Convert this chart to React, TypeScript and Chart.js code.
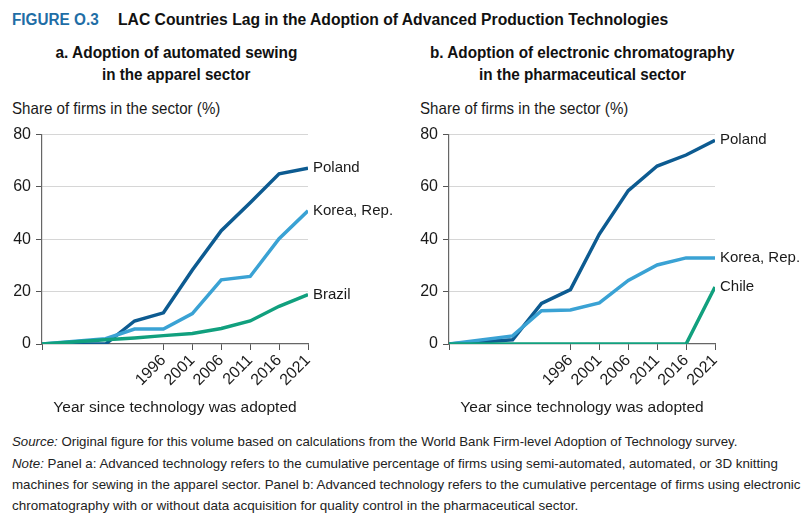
import { useEffect, useLayoutEffect, useRef } from "react";
import { Chart, registerables } from "chart.js";

Chart.register(...registerables);

const years = [1975, 1986, 1991, 1996, 2001, 2006, 2011, 2016, 2021];
const tickYears = [1975, 1996, 2001, 2006, 2011, 2016, 2021];
const yTicks = [0, 20, 40, 60, 80];

// panel a: automated sewing
const sewingPoland = [0, 0, 8.8, 11.9, 28.3, 43.3, 54, 65, 67.2];
const sewingKorea = [0, 2, 5.7, 5.7, 11.6, 24.5, 25.8, 40.2, 50.9];
const sewingBrazil = [0, 1.6, 2.3, 3.2, 4, 5.9, 8.8, 14.4, 18.9];

// panel b: electronic chromatography
const chromPoland = [0, 1.6, 15.5, 20.8, 42, 58.6, 68, 72.2, 77.8];
const chromKorea = [0, 3.1, 12.7, 13, 15.7, 24.3, 30.2, 32.9, 32.9];
const chromChile = [0, 0, 0, 0, 0, 0, 0, 0, 21.8];

const DARK_BLUE = "#0d5b91";
const LIGHT_BLUE = "#3aa2d4";
const TEAL = "#11a07e";

const FONT = "'Liberation Sans', Arial, sans-serif";

type Series = { label: string; values: number[]; color: string };

// writes each series name just right of its last point
const endLabels = {
  id: "endLabels",
  afterDatasetsDraw(chart: Chart) {
    const ctx = chart.ctx;
    ctx.save();
    ctx.font = `15px ${FONT}`;
    ctx.fillStyle = "#1a1a1a";
    ctx.textAlign = "left";
    ctx.textBaseline = "middle";
    chart.data.datasets.forEach((ds, i) => {
      const meta = chart.getDatasetMeta(i);
      const last = meta.data[meta.data.length - 1];
      if (!last) return;
      ctx.fillText(String(ds.label), last.x + 5, last.y);
    });
    ctx.restore();
  },
};

function Panel({ series }: { series: Series[] }) {
  const canvasRef = useRef<HTMLCanvasElement | null>(null);

  useEffect(() => {
    if (!canvasRef.current) return;
    const chart = new Chart(canvasRef.current, {
      type: "line",
      data: {
        datasets: series.map((s, i) => ({
          label: s.label,
          data: years.map((yr, j) => ({ x: yr, y: s.values[j] })),
          borderColor: s.color,
          backgroundColor: s.color,
          borderWidth: 3.5,
          pointRadius: 0,
          tension: 0,
          order: series.length - i,
        })),
      },
      options: {
        animation: false,
        responsive: false,
        layout: { padding: { top: 12, right: 90, left: 0, bottom: 0 } },
        plugins: { legend: { display: false }, tooltip: { enabled: false } },
        scales: {
          x: {
            type: "linear",
            min: years[0],
            max: years[years.length - 1],
            afterBuildTicks: (scale) => {
              scale.ticks = tickYears.map((v) => ({ value: v }));
            },
            afterFit: (scale) => {
              scale.height = 76;
            },
            ticks: {
              autoSkip: false,
              minRotation: 45,
              maxRotation: 45,
              padding: 1,
              color: "#1a1a1a",
              font: { size: 16, family: FONT },
              callback: (v) => (v === years[0] ? "" : String(v)),
            },
            grid: {
              drawOnChartArea: false,
              drawTicks: true,
              tickLength: 6,
              tickColor: "#555",
            },
            border: { color: "#666", width: 1.2 },
            title: {
              display: true,
              text: "Year since technology was adopted",
              color: "#1a1a1a",
              font: { size: 15.5, family: FONT },
              padding: { top: 0, bottom: 3 },
            },
          },
          y: {
            min: 0,
            max: 80,
            afterBuildTicks: (scale) => {
              scale.ticks = yTicks.map((v) => ({ value: v }));
            },
            afterFit: (scale) => {
              scale.width = 34;
            },
            ticks: {
              padding: 5,
              color: "#1a1a1a",
              font: { size: 16, family: FONT },
            },
            grid: {
              color: (c) => (c.tick && c.tick.value === 0 ? "rgba(0,0,0,0)" : "#d6d6d6"),
              tickColor: "#555",
              tickLength: 6,
              lineWidth: 1,
            },
            border: { color: "#666", width: 1.2 },
          },
        },
      },
      plugins: [endLabels],
    });
    return () => chart.destroy();
  }, [series]);

  return <canvas ref={canvasRef} width={390} height={300} />;
}

const sewingSeries: Series[] = [
  { label: "Poland", values: sewingPoland, color: DARK_BLUE },
  { label: "Korea, Rep.", values: sewingKorea, color: LIGHT_BLUE },
  { label: "Brazil", values: sewingBrazil, color: TEAL },
];

const chromSeries: Series[] = [
  { label: "Poland", values: chromPoland, color: DARK_BLUE },
  { label: "Korea, Rep.", values: chromKorea, color: LIGHT_BLUE },
  { label: "Chile", values: chromChile, color: TEAL },
];

// squeezes a line of text horizontally to the width of the condensed original face
function Fit({
  w,
  origin = "left",
  style,
  children,
}: {
  w: number;
  origin?: string;
  style?: React.CSSProperties;
  children: React.ReactNode;
}) {
  const ref = useRef<HTMLSpanElement | null>(null);
  useLayoutEffect(() => {
    const el = ref.current;
    if (!el) return;
    el.style.transform = "none";
    const natural = el.offsetWidth;
    if (natural > 0) el.style.transform = `scaleX(${w / natural})`;
  }, [w]);
  return (
    <span
      ref={ref}
      style={{ display: "inline-block", whiteSpace: "nowrap", transformOrigin: `${origin} center`, ...style }}
    >
      {children}
    </span>
  );
}

const abs = (left: number, top: number): React.CSSProperties => ({
  position: "absolute",
  left,
  top,
});

export default function App() {
  const sub: React.CSSProperties = {
    fontFamily: FONT,
    fontWeight: "bold",
    fontSize: 16,
    lineHeight: "22px",
    textAlign: "center",
    width: 400,
    color: "#111",
  };
  const axisLabel: React.CSSProperties = {
    fontFamily: FONT,
    fontSize: 16.5,
    lineHeight: "20px",
    color: "#1a1a1a",
  };
  const note: React.CSSProperties = {
    position: "absolute",
    left: 4,
    fontFamily: FONT,
    fontSize: 13.5,
    lineHeight: "16px",
    color: "#222",
  };
  return (
    <div style={{ position: "relative", width: 795, height: 508 }}>
      <div style={{ ...abs(4, 2), fontFamily: FONT, fontWeight: "bold", fontSize: 16, lineHeight: "20px" }}>
        <Fit w={87} style={{ color: "#1f6ea6" }}>
          FIGURE O.3
        </Fit>
      </div>
      <div style={{ ...abs(110, 2), fontFamily: FONT, fontWeight: "bold", fontSize: 16, lineHeight: "20px" }}>
        <Fit w={550} style={{ color: "#111" }}>
          LAC Countries Lag in the Adoption of Advanced Production Technologies
        </Fit>
      </div>
      <div style={{ ...abs(176 - 8 - 200, 34), ...sub }}>
        <div>
          <Fit w={242} origin="center">a. Adoption of automated sewing</Fit>
        </div>
        <div>
          <Fit w={149} origin="center">in the apparel sector</Fit>
        </div>
      </div>
      <div style={{ ...abs(582 - 8 - 200, 34), ...sub }}>
        <div>
          <Fit w={305} origin="center">b. Adoption of electronic chromatography</Fit>
        </div>
        <div>
          <Fit w={207} origin="center">in the pharmaceutical sector</Fit>
        </div>
      </div>
      <div style={{ ...abs(4, 90), ...axisLabel }}>
        <Fit w={208}>Share of firms in the sector (%)</Fit>
      </div>
      <div style={{ ...abs(412, 90), ...axisLabel }}>
        <Fit w={208}>Share of firms in the sector (%)</Fit>
      </div>
      <div style={abs(0, 112)}>
        <Panel series={sewingSeries} />
      </div>
      <div style={abs(407, 112)}>
        <Panel series={chromSeries} />
      </div>
      <div style={{ ...note, top: 426 }}>
        <Fit w={725}>
          <i>Source:</i> Original figure for this volume based on calculations from the World Bank Firm-level
          Adoption of Technology survey.
        </Fit>
      </div>
      <div style={{ ...note, top: 447.5 }}>
        <Fit w={766}>
          <i>Note:</i> Panel a: Advanced technology refers to the cumulative percentage of firms using
          semi-automated, automated, or 3D knitting
        </Fit>
      </div>
      <div style={{ ...note, top: 469 }}>
        <Fit w={788}>
          machines for sewing in the apparel sector. Panel b: Advanced technology refers to the cumulative
          percentage of firms using electronic
        </Fit>
      </div>
      <div style={{ ...note, top: 490 }}>
        <Fit w={566}>
          chromatography with or without data acquisition for quality control in the pharmaceutical sector.
        </Fit>
      </div>
    </div>
  );
}
